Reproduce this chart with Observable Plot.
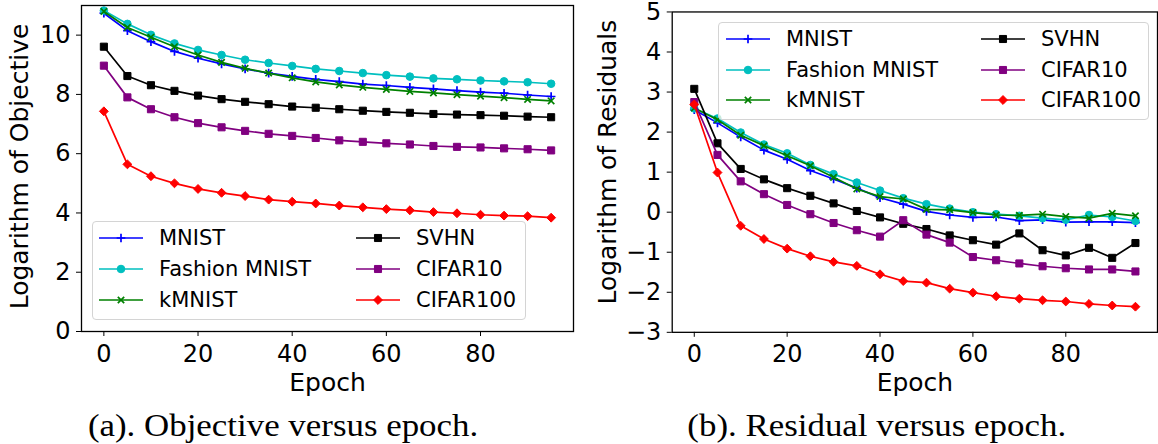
<!DOCTYPE html>
<html><head><meta charset="utf-8">
<script src="https://cdn.jsdelivr.net/npm/d3@7"></script>
<script src="https://cdn.jsdelivr.net/npm/@observablehq/plot@0.6"></script>
<style>
body{margin:0;background:#fff;width:1158px;height:444px;overflow:hidden;position:relative;font-family:"DejaVu Sans",sans-serif;}
.panel{position:absolute;top:0;}
.legend{position:absolute;border:1px solid #d4d4d4;border-radius:4px;background:rgba(255,255,255,0.8);box-sizing:border-box;}
.item{position:absolute;height:24px;font-size:21px;line-height:24px;white-space:nowrap;color:#000;}
.item svg{position:absolute;left:0;top:0;overflow:visible;}
.item span{position:absolute;top:0;}
.cap{position:absolute;font-family:"Liberation Serif",serif;font-size:32px;line-height:32px;white-space:nowrap;transform-origin:center;}
</style></head><body>
<div id="left" class="panel" style="left:0"></div>
<div id="right" class="panel" style="left:590px"></div>
<script>
// ---------- data ----------
const epochs = [0,5,10,15,20,25,30,35,40,45,50,55,60,65,70,75,80,85,90,95];
const seriesNames = ["MNIST","Fashion MNIST","kMNIST","SVHN","CIFAR10","CIFAR100"];
const seriesColors = ["#0000ff","#00bfbf","#008000","#000000","#800080","#ff0000"];
const seriesSymbols = ["plus","circle","times","square","square","diamond2"];

const objMNIST    = [10.74,10.15,9.78,9.45,9.22,9.03,8.86,8.72,8.61,8.51,8.43,8.35,8.30,8.24,8.19,8.13,8.08,8.04,7.98,7.93];
const objFashion  = [10.83,10.38,10.01,9.72,9.50,9.33,9.17,9.06,8.96,8.86,8.79,8.72,8.65,8.60,8.54,8.51,8.47,8.44,8.41,8.36];
const objKMNIST   = [10.80,10.26,9.93,9.61,9.33,9.08,8.88,8.72,8.56,8.42,8.32,8.24,8.17,8.10,8.05,7.99,7.94,7.89,7.83,7.78];
const objSVHN     = [9.61,8.62,8.31,8.12,7.96,7.84,7.75,7.67,7.59,7.55,7.50,7.45,7.41,7.38,7.34,7.32,7.30,7.28,7.25,7.23];
const objCIFAR10  = [8.97,7.90,7.50,7.23,7.03,6.89,6.77,6.67,6.60,6.53,6.45,6.40,6.35,6.31,6.26,6.23,6.21,6.18,6.15,6.11];
const objCIFAR100 = [7.43,5.64,5.24,5.00,4.81,4.68,4.57,4.45,4.38,4.32,4.25,4.19,4.13,4.09,4.03,3.99,3.94,3.91,3.89,3.84];

const resMNIST    = [2.56,2.23,1.88,1.55,1.32,1.04,0.83,0.60,0.36,0.20,0.02,-0.07,-0.13,-0.12,-0.21,-0.19,-0.25,-0.24,-0.24,-0.26];
const resFashion  = [2.59,2.34,1.99,1.69,1.47,1.18,0.95,0.74,0.54,0.35,0.20,0.09,0.00,-0.05,-0.09,-0.15,-0.19,-0.07,-0.12,-0.22];
const resKMNIST   = [2.60,2.31,1.92,1.66,1.41,1.16,0.87,0.58,0.39,0.33,0.07,0.06,-0.01,-0.07,-0.08,-0.05,-0.11,-0.15,-0.03,-0.09];
const resSVHN     = [3.08,1.72,1.08,0.82,0.60,0.41,0.22,0.03,-0.13,-0.29,-0.42,-0.58,-0.70,-0.81,-0.53,-0.95,-1.08,-0.89,-1.14,-0.77];
const resCIFAR10  = [2.75,1.43,0.77,0.45,0.18,-0.05,-0.27,-0.45,-0.61,-0.20,-0.56,-0.76,-1.12,-1.20,-1.28,-1.35,-1.40,-1.43,-1.43,-1.48];
const resCIFAR100 = [2.69,0.99,-0.34,-0.67,-0.91,-1.10,-1.24,-1.34,-1.55,-1.72,-1.76,-1.91,-2.01,-2.10,-2.16,-2.20,-2.23,-2.29,-2.33,-2.36];

const xTicks = [0,20,40,60,80];
const objTicks = [0,2,4,6,8,10];
const resTicks = [-3,-2,-1,0,1,2,3,4,5];
const objLabel = "Logarithm of Objective";
const resLabel = "Logarithm of Residuals";
const xLabel = "Epoch";
const captionA = "(a). Objective versus epoch.";
const captionB = "(b). Residual versus epoch.";

const objSeries = [objMNIST,objFashion,objKMNIST,objSVHN,objCIFAR10,objCIFAR100];
const resSeries = [resMNIST,resFashion,resKMNIST,resSVHN,resCIFAR10,resCIFAR100];

// ---------- drawing ----------
const symR = {plus:2.9, circle:3.8, times:3.0, square:4.0, diamond2:4.0};
const strokeSyms = new Set(["plus","times"]);
const fmt = d => d < 0 ? "\u2212" + Math.abs(d) : String(d);

function makePanel(values, opts){
  const marks = [];
  values.forEach((vals, si) => {
    const data = epochs.map((e,i) => ({epoch:e, value:vals[i]}));
    const c = seriesColors[si], sym = seriesSymbols[si];
    marks.push(Plot.line(data, {x:"epoch", y:"value", stroke:c, strokeWidth:1.7}));
    if (strokeSyms.has(sym)) {
      marks.push(Plot.dot(data, {x:"epoch", y:"value", symbol:()=>sym, r:symR[sym], fill:"none", stroke:c, strokeWidth:1.7}));
    } else {
      marks.push(Plot.dot(data, {x:"epoch", y:"value", symbol:()=>sym, r:symR[sym], fill:c, stroke:c, strokeWidth:1}));
    }
  });
  marks.push(Plot.frame({stroke:"#000", strokeWidth:1.3}));
  marks.push(Plot.axisX({ticks:xTicks, tickSize:5, tickPadding:8, label:null, tickFormat:fmt}));
  marks.push(Plot.axisY({ticks:opts.yTicks, tickSize:5, tickPadding:6, label:null, tickFormat:fmt}));
  marks.push(Plot.text([xLabel], {frameAnchor:"bottom", lineAnchor:"middle", textAnchor:"middle", dy:51, text:d=>d, fontSize:25}));
  marks.push(Plot.text([opts.yLabel], {frameAnchor:"left", lineAnchor:"middle", textAnchor:"middle", rotate:-90, dx:opts.labelDx, dy:opts.labelDy, text:d=>d, fontSize:25}));
  return Plot.plot({
    width:opts.width, height:400,
    marginLeft:opts.ml, marginRight:opts.mr, marginTop:opts.mt, marginBottom:opts.mb,
    x:{domain:[-4.75,99.75]},
    y:{domain:opts.yDomain},
    style:{fontFamily:"DejaVu Sans, sans-serif", fontSize:"24px", color:"#000", background:"transparent", overflow:"visible"},
    marks
  });
}

document.getElementById("left").append(makePanel(objSeries, {
  width:580, ml:81, mr:7, mt:5, mb:69, yDomain:[0,11], yTicks:objTicks, yLabel:objLabel, labelDx:-62, labelDy:-2
}));
document.getElementById("right").append(makePanel(resSeries, {
  width:570, ml:82, mr:1, mt:11.5, mb:67, yDomain:[-3,5], yTicks:resTicks, yLabel:resLabel, labelDx:-64, labelDy:-10
}));

// ---------- legends ----------
function legend(left, top, w, h, rowYs, col1x, col2x, textOff){
  const box = document.createElement("div");
  box.className = "legend";
  Object.assign(box.style, {left:left+"px", top:top+"px", width:w+"px", height:h+"px"});
  document.body.append(box);
  seriesNames.forEach((name, i) => {
    const col = i < 3 ? col1x : col2x;
    const row = rowYs[i % 3];
    const item = document.createElement("div");
    item.className = "item";
    Object.assign(item.style, {left:(col - left - 1)+"px", top:(row - top - 13)+"px", width:"260px"});
    const sym = seriesSymbols[i], c = seriesColors[i];
    const d3sym = {plus:d3.symbolPlus, circle:d3.symbolCircle, times:d3.symbolTimes, square:d3.symbolSquare, diamond2:d3.symbolDiamond2}[sym];
    const size = Math.PI * symR[sym] * symR[sym];
    const svg = d3.create("svg").attr("width",44).attr("height",24);
    svg.append("line").attr("x1",0).attr("x2",44).attr("y1",12).attr("y2",12).attr("stroke",c).attr("stroke-width",1.7);
    const p = svg.append("path").attr("d", d3.symbol(d3sym, size)()).attr("transform","translate(22,12)");
    if (strokeSyms.has(sym)) p.attr("fill","none").attr("stroke",c).attr("stroke-width",1.7);
    else p.attr("fill",c).attr("stroke",c).attr("stroke-width",1);
    item.append(svg.node());
    const sp = document.createElement("span");
    sp.style.left = textOff + "px";
    sp.textContent = name;
    item.append(sp);
    box.append(item);
  });
}
legend(92, 221, 434, 99, [238, 268.5, 299.5], 99, 356, 60);
legend(718, 22, 431, 98, [39, 69.5, 100], 726, 981, 60);

// ---------- captions ----------
function caption(text, cx){
  const d = document.createElement("div");
  d.className = "cap";
  d.textContent = text;
  document.body.append(d);
  const w = d.getBoundingClientRect().width;
  d.style.left = (cx - w/2) + "px";
  d.style.top = "409px";
  return d;
}
const ca = caption(captionA, 283);
const cb = caption(captionB, 877);
ca.style.transform = "scaleX(1.09)";
cb.style.transform = "scaleX(1.09)";
</script>
</body></html>
